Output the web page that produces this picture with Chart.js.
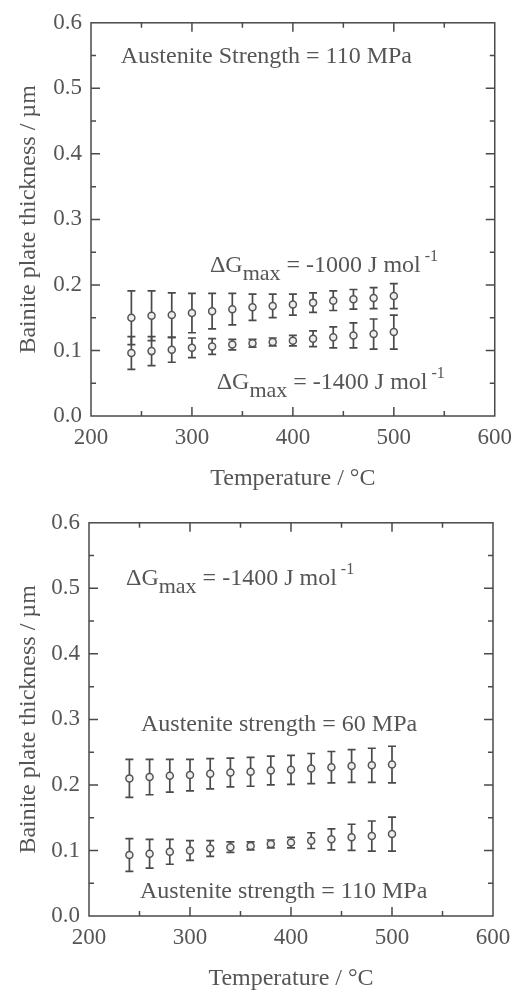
<!DOCTYPE html>
<html>
<head>
<meta charset="utf-8">
<script src="https://cdn.jsdelivr.net/npm/chart.js@4.4.1/dist/chart.umd.min.js"></script>
<style>
  body { margin: 0; background: #fff; }
  canvas { position: absolute; left: 0; }
  #top-chart { top: 0; }
  #bottom-chart { top: 500px; }
</style>
</head>
<body>
<canvas id="top-chart" width="520" height="496"></canvas>
<canvas id="bottom-chart" width="520" height="493"></canvas>
<script>
// temperatures (°C)
const temps = [240, 260, 280, 300, 320, 340, 360, 380, 400, 420, 440, 460, 480, 500];

// top panel: austenite strength 110 MPa
const dg1000 = [0.150, 0.153, 0.154, 0.157, 0.160, 0.163, 0.166, 0.168, 0.170, 0.173, 0.176, 0.178, 0.180, 0.183];
const dg1000Err = [0.041, 0.038, 0.034, 0.030, 0.027, 0.024, 0.020, 0.018, 0.016, 0.015, 0.015, 0.015, 0.016, 0.019];
const dg1400 = [0.096, 0.099, 0.101, 0.104, 0.106, 0.109, 0.111, 0.113, 0.115, 0.118, 0.120, 0.123, 0.125, 0.128];
const dg1400Err = [0.025, 0.022, 0.019, 0.015, 0.012, 0.008, 0.006, 0.006, 0.008, 0.012, 0.016, 0.019, 0.023, 0.026];

// bottom panel: dGmax -1400 J/mol
const str60 = [0.210, 0.212, 0.214, 0.215, 0.217, 0.219, 0.220, 0.222, 0.223, 0.225, 0.227, 0.229, 0.230, 0.231];
const str60Err = [0.029, 0.027, 0.025, 0.024, 0.023, 0.022, 0.022, 0.022, 0.022, 0.023, 0.024, 0.025, 0.026, 0.028];
const str110 = [0.093, 0.095, 0.098, 0.100, 0.103, 0.105, 0.107, 0.110, 0.112, 0.115, 0.117, 0.120, 0.122, 0.125];
const str110Err = [0.025, 0.022, 0.019, 0.015, 0.012, 0.008, 0.006, 0.006, 0.008, 0.012, 0.016, 0.020, 0.023, 0.026];

const FONT = "'Liberation Serif', 'Times New Roman', serif";
const INK = '#555';

function points(ys) {
    return temps.map((t, i) => ({x: t, y: ys[i]}));
}

function series(ys, errs) {
    return {
        data: points(ys),
        errors: errs,
        showLine: false,
        pointRadius: 3.5,
        pointBorderWidth: 1.5,
        pointBorderColor: '#555',
        pointBackgroundColor: '#eee'
    };
}

// vertical error bars with caps
const errorBars = {
    id: 'errorBars',
    beforeDatasetsDraw(chart) {
        const ctx = chart.ctx;
        const xs = chart.scales.x, ys = chart.scales.y;
        ctx.save();
        ctx.strokeStyle = '#4a4a4a';
        ctx.lineWidth = 1.7;
        chart.data.datasets.forEach(ds => {
            ds.data.forEach((p, i) => {
                const e = ds.errors[i];
                const px = xs.getPixelForValue(p.x);
                const y1 = ys.getPixelForValue(p.y + e);
                const y2 = ys.getPixelForValue(p.y - e);
                ctx.beginPath();
                ctx.moveTo(px, y1); ctx.lineTo(px, y2);
                ctx.moveTo(px - 4, y1); ctx.lineTo(px + 4, y1);
                ctx.moveTo(px - 4, y2); ctx.lineTo(px + 4, y2);
                ctx.stroke();
            });
        });
        ctx.restore();
    }
};

// frame with inward ticks on every side
const frame = {
    id: 'frame',
    afterDraw(chart) {
        const ctx = chart.ctx;
        const {left, right, top, bottom} = chart.chartArea;
        const xs = chart.scales.x, ys = chart.scales.y;
        ctx.save();
        ctx.strokeStyle = '#4a4a4a';
        ctx.lineWidth = 1.5;
        ctx.strokeRect(left, top, right - left, bottom - top);
        ctx.beginPath();
        for (let v = 250; v < 600; v += 50) {
            const px = xs.getPixelForValue(v);
            const len = v % 100 === 0 ? 9 : 5;
            ctx.moveTo(px, bottom); ctx.lineTo(px, bottom - len);
            ctx.moveTo(px, top); ctx.lineTo(px, top + len);
        }
        for (let k = 1; k < 12; k++) {
            const py = ys.getPixelForValue(k * 0.05);
            const len = k % 2 === 0 ? 9 : 5;
            ctx.moveTo(left, py); ctx.lineTo(left + len, py);
            ctx.moveTo(right, py); ctx.lineTo(right - len, py);
        }
        ctx.stroke();
        ctx.restore();
    }
};

// text notes with sub/superscripts, placed in data units
const notes = {
    id: 'notes',
    afterDraw(chart) {
        const ctx = chart.ctx;
        const xs = chart.scales.x, ys = chart.scales.y;
        ctx.save();
        ctx.fillStyle = INK;
        ctx.textBaseline = 'alphabetic';
        ctx.textAlign = 'left';
        (chart.options.notes || []).forEach(n => {
            let px = xs.getPixelForValue(n.x);
            const py = ys.getPixelForValue(n.y);
            n.parts.forEach(part => {
                ctx.font = part.size + 'px ' + FONT;
                ctx.fillText(part.t, px, py + (part.dy || 0));
                px += ctx.measureText(part.t).width;
            });
        });
        ctx.restore();
    }
};

function dgText(val) {
    return [
        {t: '\u0394G', size: 24},
        {t: 'max', size: 22, dy: 8},
        {t: ' = ' + val + ' J mol', size: 24},
        {t: ' -1', size: 16, dy: -11}
    ];
}

function makeChart(canvas, datasets, box, noteList) {
    return new Chart(canvas.getContext('2d'), {
        type: 'scatter',
        data: {datasets},
        options: {
            responsive: false,
            animation: false,
            layout: {padding: {top: box.top, right: box.right, bottom: 0, left: 0}},
            plugins: {legend: {display: false}, tooltip: {enabled: false}},
            notes: noteList,
            scales: {
                x: {
                    type: 'linear', min: 200, max: 600,
                    afterFit: s => { s.height = box.xh; },
                    grid: {display: false, drawTicks: false},
                    border: {display: false},
                    ticks: {stepSize: 100, padding: 8, color: INK, font: {family: FONT, size: 23}},
                    title: {display: true, text: 'Temperature / \u00B0C', color: INK,
                        font: {family: FONT, size: 24}, padding: {top: 0, bottom: box.xtb}}
                },
                y: {
                    min: 0, max: 0.6,
                    afterFit: s => { s.width = box.yw; },
                    grid: {display: false, drawTicks: false},
                    border: {display: false},
                    ticks: {stepSize: 0.1, padding: 9, color: INK, font: {family: FONT, size: 23},
                        callback: v => v.toFixed(1)},
                    title: {display: true, text: 'Bainite plate thickness / \u00B5m', color: INK,
                        font: {family: FONT, size: 24}, padding: {top: 14, bottom: 0}}
                }
            }
        },
        plugins: [errorBars, frame, notes]
    });
}

makeChart(document.querySelector('#top-chart'),
    [series(dg1000, dg1000Err), series(dg1400, dg1400Err)],
    {top: 20, right: 25, xh: 80, yw: 91, xtb: 3},
    [
        {x: 229.4, y: 0.539, parts: [{t: 'Austenite Strength = 110 MPa', size: 24}]},
        {x: 317.8, y: 0.219, parts: dgText('-1000')},
        {x: 324.5, y: 0.041, parts: dgText('-1400')}
    ]);

makeChart(document.querySelector('#bottom-chart'),
    [series(str60, str60Err), series(str110, str110Err)],
    {top: 19, right: 27, xh: 77, yw: 89, xtb: 0},
    [
        {x: 236.6, y: 0.505, parts: dgText('-1400')},
        {x: 251.5, y: 0.282, parts: [{t: 'Austenite strength = 60 MPa', size: 24}]},
        {x: 250.5, y: 0.028, parts: [{t: 'Austenite strength = 110 MPa', size: 24}]}
    ]);
</script>
</body>
</html>
